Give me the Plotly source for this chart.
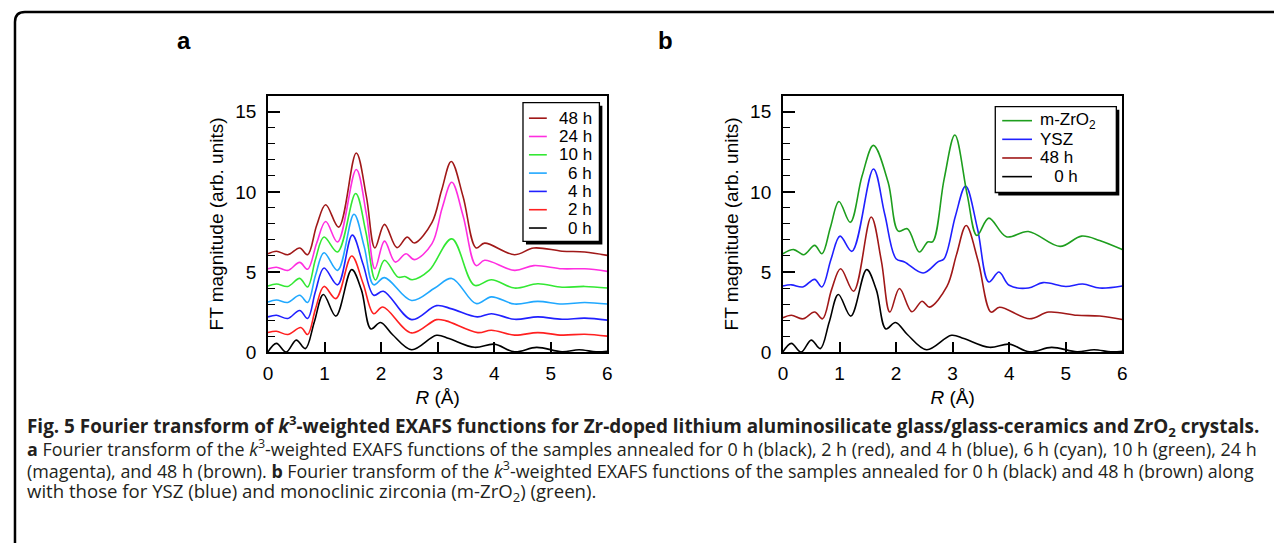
import plotly.graph_objects as go

W, H = 1282, 543
# measured placement of the figure in the photographed window:
# window_x = fig_x + OX ; window_y = SY * (fig_y + OY)
OX, OY, SY = 8.0, 7.2, 0.982

# ---------------- data (raw FT magnitudes, before vertical stacking offset) ----------------
R_0h = [0.0, 0.15, 0.32, 0.5, 0.66, 0.82, 0.98, 1.2, 1.48, 1.65, 1.82, 1.99, 2.2, 2.54, 2.98, 3.2, 3.65, 4.0, 4.36, 4.75, 5.2, 5.5, 5.8, 6.0]
FT_0h = [0.02, 0.55, 0.0, 0.75, 0.22, 1.9, 3.6, 2.25, 5.15, 3.9, 1.45, 1.85, 1.1, 0.15, 1.05, 0.85, 0.3, 0.5, 0.02, 0.3, 0.02, 0.15, 0.02, 0.05]

R_2h = [0.0, 0.15, 0.35, 0.58, 0.7, 0.84, 0.99, 1.2, 1.48, 1.68, 1.87, 2.03, 2.54, 2.98, 3.15, 3.71, 3.95, 4.36, 4.77, 5.2, 5.6, 6.0]
FT_2h = [0.22, 0.3, 0.1, 0.54, 0.1, 1.7, 3.1, 2.34, 5.0, 3.3, 1.4, 1.82, 0.2, 1.03, 0.95, 0.22, 0.37, 0.06, 0.22, 0.06, 0.12, 0.0]

R_4h = [0.0, 0.15, 0.35, 0.56, 0.7, 0.84, 0.99, 1.23, 1.49, 1.68, 1.87, 2.04, 2.54, 2.98, 3.25, 3.7, 3.95, 4.36, 4.77, 5.2, 5.6, 6.0]
FT_4h = [0.2, 0.3, 0.1, 0.6, 0.1, 1.8, 3.25, 2.2, 5.3, 3.5, 1.55, 1.8, 0.03, 0.9, 0.7, 0.2, 0.4, 0.05, 0.2, 0.05, 0.12, 0.0]

R_6h = [0.0, 0.15, 0.35, 0.56, 0.7, 0.84, 0.99, 1.23, 1.52, 1.7, 1.87, 2.06, 2.54, 2.95, 3.25, 3.68, 3.95, 4.36, 4.77, 5.2, 5.6, 6.0]
FT_6h = [0.13, 0.25, 0.1, 0.55, 0.1, 1.8, 3.2, 2.1, 5.6, 3.6, 1.2, 1.65, 0.22, 1.0, 1.6, 0.03, 0.45, 0.0, 0.17, 0.0, 0.1, 0.0]

R_10h = [0.0, 0.15, 0.35, 0.56, 0.7, 0.84, 0.99, 1.23, 1.55, 1.73, 1.9, 2.06, 2.3, 2.42, 2.55, 2.85, 3.25, 3.65, 3.95, 4.36, 4.77, 5.2, 5.6, 6.0]
FT_10h = [0.13, 0.25, 0.1, 0.6, 0.07, 1.8, 3.18, 2.25, 5.9, 3.5, 0.5, 1.73, 0.68, 0.72, 0.52, 1.1, 3.07, 0.17, 0.52, 0.0, 0.27, 0.05, 0.1, 0.0]

R_24h = [0.0, 0.15, 0.35, 0.56, 0.7, 0.86, 1.02, 1.23, 1.56, 1.74, 1.89, 2.06, 2.25, 2.44, 2.59, 2.9, 3.08, 3.25, 3.45, 3.68, 3.83, 4.36, 4.7, 5.2, 5.6, 6.0]
FT_24h = [0.2, 0.3, 0.1, 0.6, 0.17, 1.8, 3.15, 1.87, 6.4, 3.6, 0.2, 1.93, 0.62, 1.14, 0.77, 1.77, 4.0, 5.6, 3.5, 0.4, 0.73, 0.1, 0.4, 0.2, 0.2, 0.04]

R_48h = [0.0, 0.15, 0.35, 0.56, 0.7, 0.86, 1.02, 1.25, 1.56, 1.74, 1.89, 2.06, 2.28, 2.46, 2.59, 2.9, 3.07, 3.24, 3.45, 3.68, 3.83, 4.36, 4.7, 5.2, 5.6, 6.0]
FT_48h = [0.14, 0.3, 0.08, 0.5, 0.08, 1.9, 3.2, 1.8, 6.43, 3.7, 0.5, 1.97, 0.52, 1.18, 0.81, 2.1, 4.1, 5.9, 3.7, 0.5, 0.8, 0.08, 0.5, 0.3, 0.25, 0.04]

R_ysz = [0.0, 0.15, 0.35, 0.56, 0.69, 0.85, 1.01, 1.22, 1.6, 1.8, 2.0, 2.15, 2.48, 2.74, 2.85, 3.05, 3.23, 3.44, 3.64, 3.82, 4.0, 4.34, 4.6, 5.0, 5.3, 5.6, 6.0]
FT_ysz = [0.13, 0.2, 0.07, 0.54, 0.07, 1.8, 3.24, 2.29, 7.43, 4.6, 1.83, 1.63, 0.94, 1.63, 1.83, 4.5, 6.36, 3.7, 0.38, 1.0, 0.17, 0.0, 0.34, 0.1, 0.25, 0.0, 0.13]

R_mzro2 = [0.0, 0.19, 0.37, 0.56, 0.69, 0.84, 0.99, 1.19, 1.4, 1.6, 1.86, 2.04, 2.2, 2.41, 2.56, 2.65, 2.85, 3.04, 3.26, 3.43, 3.64, 3.95, 4.34, 4.9, 5.28, 5.6, 6.0]
FT_mzro2 = [0.14, 0.4, 0.08, 0.66, 0.14, 1.8, 3.4, 2.1, 5.0, 6.9, 4.6, 1.55, 1.7, 0.25, 0.87, 0.9, 4.8, 7.55, 3.78, 1.28, 2.36, 1.2, 1.53, 0.6, 1.24, 0.97, 0.4]

# series for each panel: (legend name, R, FT, stacking offset, colour)
panel_a = [
    ("0 h", R_0h, FT_0h, 0, "#000000"),
    ("2 h", R_2h, FT_2h, 1, "#ff2020"),
    ("4 h", R_4h, FT_4h, 2, "#2020ff"),
    ("6 h", R_6h, FT_6h, 3, "#20a8ff"),
    ("10 h", R_10h, FT_10h, 4, "#33e833"),
    ("24 h", R_24h, FT_24h, 5, "#ff2ee0"),
    ("48 h", R_48h, FT_48h, 6, "#a01818"),
]
panel_b = [
    ("0 h", R_0h, FT_0h, 0, "#000000"),
    ("48 h", R_48h, FT_48h, 2, "#a01818"),
    ("YSZ", R_ysz, FT_ysz, 4, "#2020ff"),
    ("m-ZrO<sub>2</sub>", R_mzro2, FT_mzro2, 6, "#1e9e1e"),
]

x_ticks = [0, 1, 2, 3, 4, 5, 6]
y_ticks = [0, 5, 10, 15]

# ---------------- figure ----------------
fig = go.Figure()

for name, r, ft, off, col in panel_a:
    fig.add_trace(go.Scatter(x=r, y=[v + off for v in ft], mode="lines", name=name,
                             line=dict(color=col, width=1.6, shape="spline", smoothing=1.0),
                             xaxis="x", yaxis="y", showlegend=False))
for name, r, ft, off, col in panel_b:
    fig.add_trace(go.Scatter(x=r, y=[v + off for v in ft], mode="lines", name=name,
                             line=dict(color=col, width=1.6, shape="spline", smoothing=1.0),
                             xaxis="x2", yaxis="y2", showlegend=False))


def px(x):
    """window pixel x -> paper fraction"""
    return (x - OX) / W


def py(y):
    """window pixel y -> paper fraction"""
    return 1 - (y / SY - OY) / H


TICKFONT = dict(family="Liberation Sans, Arial, sans-serif", size=19, color="black")
TITLEFONT = dict(family="Liberation Sans, Arial, sans-serif", size=19, color="black")

xaxis_common = dict(range=[0, 6], tickvals=x_ticks, ticks="inside", ticklen=10, tickwidth=1.5,
                    tickcolor="black", showline=True, linecolor="black", linewidth=1.8, mirror=True,
                    showgrid=False, zeroline=False, tickfont=TICKFONT, ticklabelstandoff=3,
                    title=dict(text="<i>R</i> (Å)", font=TITLEFONT, standoff=8))
yaxis_common = dict(range=[0, 16], tickvals=y_ticks, ticks="inside", ticklen=12, tickwidth=1.5,
                    tickcolor="black", showline=True, linecolor="black", linewidth=1.8, mirror=True,
                    showgrid=False, zeroline=False, tickfont=TICKFONT, ticklabelstandoff=6,
                    minor=dict(dtick=1, ticks="inside", ticklen=7, tickwidth=1.3, tickcolor="black"),
                    title=dict(text="FT magnitude (arb. units)", font=TITLEFONT, standoff=6))

ya = [py(352), py(95)]
fig.update_layout(
    width=W, height=H, margin=dict(l=0, r=0, t=0, b=0),
    paper_bgcolor="white", plot_bgcolor="white", showlegend=False,
    xaxis=dict(domain=[px(265), px(607)], anchor="y", **xaxis_common),
    yaxis=dict(domain=ya, anchor="x", **yaxis_common),
    xaxis2=dict(domain=[px(784), px(1126)], anchor="y2", **xaxis_common),
    yaxis2=dict(domain=ya, anchor="x2", **yaxis_common),
)

shapes = []
annotations = []

# outer rounded frame (only top/left visible in the crop)
shapes.append(dict(type="path", xref="paper", yref="paper",
                   path=f"M {px(10)},{py(600)} L {px(10)},{py(21)} Q {px(10)},{py(11)} {px(20)},{py(11)} L {px(1320)},{py(11)}",
                   line=dict(color="black", width=2.5), layer="above"))


def add_legend(series, box, line_x0, line_x1, text_x, text_anchor, y0, dy):
    x0, y_top, x1, y_bot = box
    shapes.append(dict(type="rect", xref="paper", yref="paper", x0=px(x0 + 3), x1=px(x1 + 3),
                       y0=py(y_bot + 3), y1=py(y_top + 3), fillcolor="black",
                       line=dict(width=0), layer="above"))
    shapes.append(dict(type="rect", xref="paper", yref="paper", x0=px(x0), x1=px(x1),
                       y0=py(y_bot), y1=py(y_top), fillcolor="white",
                       line=dict(color="black", width=1.3), layer="above"))
    for i, (name, _r, _ft, _off, col) in enumerate(series):
        yy = y0 + i * dy
        shapes.append(dict(type="line", xref="paper", yref="paper", x0=px(line_x0), x1=px(line_x1),
                           y0=py(yy), y1=py(yy), line=dict(color=col, width=1.6), layer="above"))
        annotations.append(dict(xref="paper", yref="paper", x=px(text_x), y=py(yy), text=name,
                                xanchor=text_anchor, yanchor="middle", showarrow=False,
                                font=dict(family="Liberation Sans, Arial, sans-serif", size=17, color="black")))


# legend a: top-to-bottom 48 h ... 0 h
add_legend(list(reversed(panel_a)), (522, 102, 599, 241), 528, 546, 594, "right", 117.5, 18.35)
# legend b: m-ZrO2, YSZ, 48 h, 0 h
leg_b = list(reversed(panel_b))
leg_b = [(n if n != "0 h" else "\u00a0\u00a0\u00a00 h", r, f, o, c) for (n, r, f, o, c) in leg_b]
add_legend(leg_b, (998, 106, 1120, 192), 1005, 1035, 1041, "left", 120, 18.7)

# panel letters
for letter, x in (("a", 180), ("b", 666)):
    annotations.append(dict(xref="paper", yref="paper", x=px(x), y=py(40), text=f"<b>{letter}</b>",
                            xanchor="center", yanchor="middle", showarrow=False,
                            font=dict(family="Liberation Sans, Arial, sans-serif", size=24, color="black")))

# caption
CAP = "Open Sans, Lato, sans-serif"
cap_lines = [
    ("<b>Fig. 5 Fourier transform of <i>k</i><sup>3</sup>-weighted EXAFS functions for Zr-doped lithium aluminosilicate glass/glass-ceramics and ZrO<sub>2</sub> crystals.</b>", 426, 18.9),
    ("<b>a</b> Fourier transform of the <i>k</i><sup>3</sup>-weighted EXAFS functions of the samples annealed for 0 h (black), 2 h (red), and 4 h (blue), 6 h (cyan), 10 h (green), 24 h", 448, 17.9),
    ("(magenta), and 48 h (brown). <b>b</b> Fourier transform of the <i>k</i><sup>3</sup>-weighted EXAFS functions of the samples annealed for 0 h (black) and 48 h (brown) along", 470, 17.9),
    ("with those for YSZ (blue) and monoclinic zirconia (m-ZrO<sub>2</sub>) (green).", 492, 18.6),
]
for text, y, size in cap_lines:
    annotations.append(dict(xref="paper", yref="paper", x=px(20), y=py(y), text=text,
                            xanchor="left", yanchor="middle", showarrow=False,
                            font=dict(family=CAP, size=size, color="#231f20")))

fig.update_layout(shapes=shapes, annotations=annotations)

fig.write_html("out.html")
